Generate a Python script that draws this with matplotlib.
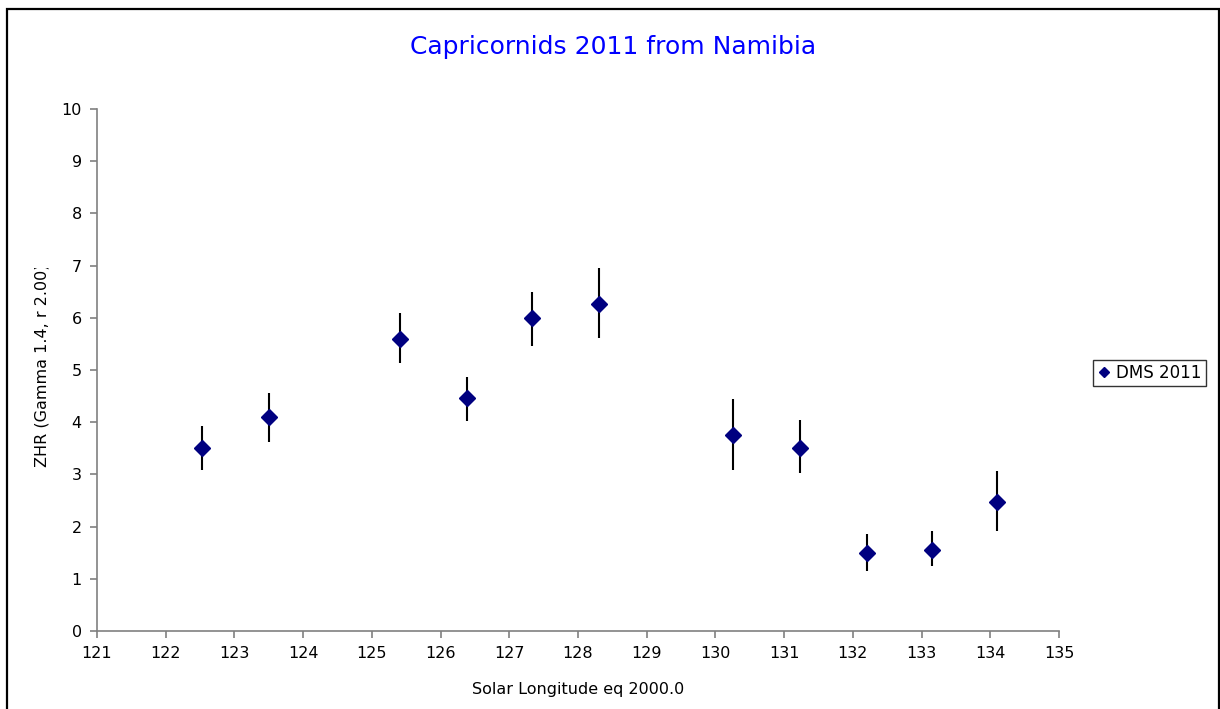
import matplotlib
matplotlib.use('Agg')
from matplotlib import pyplot as plt
from matplotlib.patches import Rectangle
from matplotlib.transforms import Bbox

# %%
solar_longitude = [122.53, 123.50, 125.41, 126.38, 127.33, 128.30,
                   130.25, 131.23, 132.20, 133.15, 134.10]
zhr = [3.51, 4.10, 5.59, 4.47, 5.99, 6.27, 3.76, 3.51, 1.50, 1.56, 2.47]
zhr_hi = [3.93, 4.56, 6.10, 4.87, 6.49, 6.96, 4.45, 4.04, 1.85, 1.91, 3.06]
zhr_lo = [3.08, 3.63, 5.13, 4.03, 5.46, 5.61, 3.08, 3.02, 1.15, 1.24, 1.92]

err_lo = [z - lo for z, lo in zip(zhr, zhr_lo)]
err_hi = [hi - z for z, hi in zip(zhr, zhr_hi)]

# %%
W, H = 1220, 709
fig = plt.figure(figsize=(W / 100, H / 100), dpi=100)
ax = fig.add_axes([97 / W, 1 - 631 / H, (1059 - 97) / W, (631 - 109) / H])

ax.errorbar(solar_longitude, zhr, yerr=[err_lo, err_hi], fmt='none',
            ecolor='black', elinewidth=1.5, capsize=0, zorder=2)
ax.plot(solar_longitude, zhr, linestyle='none', marker='D', markersize=8,
        color='#000080', label='DMS 2011', zorder=3)

ax.set_xlim(121, 135)
ax.set_ylim(0, 10)
ax.set_xticks(range(121, 136))
ax.set_yticks(range(0, 11))

for side in ('top', 'right'):
    ax.spines[side].set_visible(False)
for side in ('left', 'bottom'):
    ax.spines[side].set_color('#808080')
    ax.spines[side].set_linewidth(1.2)
ax.tick_params(direction='out', length=5, width=1.2, color='#808080',
               labelsize=11.5, pad=6)

ax.set_xlabel('Solar Longitude eq 2000.0', fontsize=11.5, labelpad=15)

# y label cut off at the top like the original
ylab = fig.text(42 / W, 1 - 365 / H, 'ZHR (Gamma 1.4, r 2.00)', rotation=90,
                ha='center', va='center', fontsize=11.5)
ylab.set_clip_box(Bbox([[0, 0], [W, H - 268]]))
ylab.set_clip_on(True)

fig.text(613 / W, 1 - 47 / H, 'Capricornids 2011 from Namibia',
         ha='center', va='center', fontsize=18, color='#0000FF')

leg = fig.legend(loc='center left', bbox_to_anchor=(1093 / W, 1 - 373 / H),
                 frameon=True, fancybox=False, fontsize=12, handlelength=0.8,
                 handletextpad=0.35, borderpad=0.25, borderaxespad=0,
                 markerscale=0.7)
leg.get_frame().set_edgecolor('black')
leg.get_frame().set_linewidth(1.0)

# outer chart frame
fig.add_artist(Rectangle((7 / W, -0.01), (1219 - 7) / W, 1.01 - 9 / H,
                         transform=fig.transFigure, fill=False,
                         edgecolor='black', linewidth=1.6))

fig.savefig('out.png', dpi=100)
